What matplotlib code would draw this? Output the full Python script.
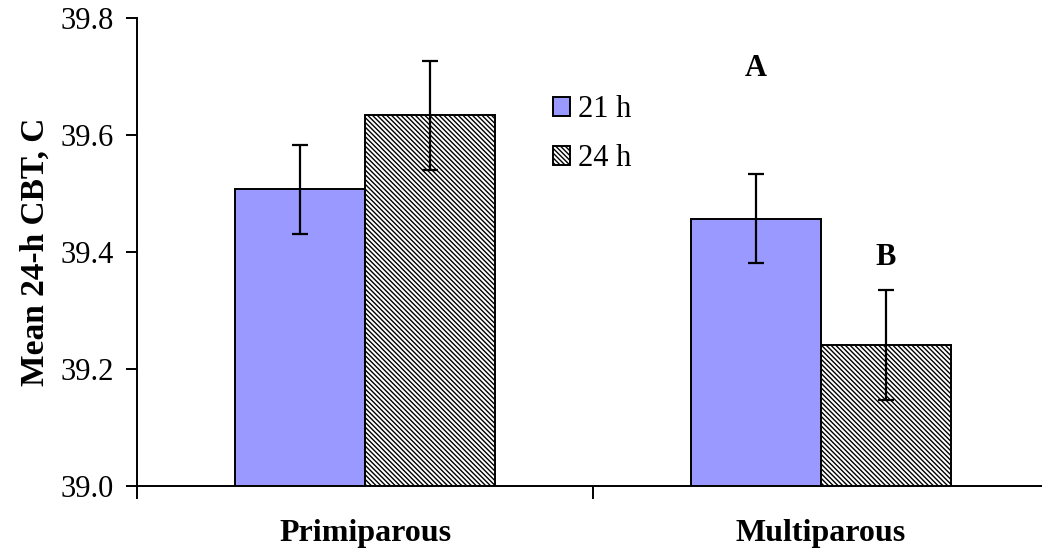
import matplotlib
matplotlib.use('Agg')
import matplotlib.pyplot as plt
import numpy as np

# --- data ---
groups = ['Primiparous', 'Multiparous']
series = ['21 h', '24 h']
cbt_21h = [39.507, 39.457]
err_21h = [0.076, 0.076]
cbt_24h = [39.634, 39.241]
err_24h = [0.093, 0.094]
letters_24h = ['', 'B']
letters_21h = ['', 'A']

plt.rcParams['font.family'] = ['Liberation Serif', 'DejaVu Serif']
plt.rcParams['hatch.linewidth'] = 1.0

fig = plt.figure(figsize=(10.42, 5.5), dpi=100)
ax = fig.add_axes([137 / 1042, 64 / 550, 912 / 1042, 468 / 550])

x = np.arange(len(groups)) + 0.5
w = 0.285

err_kw = dict(ecolor='black', elinewidth=1.6, capsize=6, capthick=1.6)
ax.bar(x - w / 2, cbt_21h, w, color='#9999ff', edgecolor='black', linewidth=1.4,
       yerr=err_21h, error_kw=err_kw, label=series[0])
ax.bar(x + w / 2, cbt_24h, w, color='white', edgecolor='black', linewidth=1.4,
       hatch='\\' * 7, yerr=err_24h, error_kw=err_kw, label=series[1])

# significance letters
for i in range(len(groups)):
    if letters_21h[i]:
        ax.text(x[i] - w / 2, cbt_21h[i] + err_21h[i] + 0.18, letters_21h[i],
                ha='center', va='center', fontsize=22, fontweight='bold')
    if letters_24h[i]:
        ax.text(x[i] + w / 2, cbt_24h[i] + err_24h[i] + 0.055, letters_24h[i],
                ha='center', va='center', fontsize=22, fontweight='bold')

ax.set_xlim(0, 2)
ax.set_ylim(39.0, 39.8)
ax.set_yticks(np.arange(39.0, 39.81, 0.2))
ax.set_yticklabels([f'{v:.1f}' for v in np.arange(39.0, 39.81, 0.2)])
ax.set_xticks(x)
ax.set_xticklabels(groups, fontsize=23, fontweight='bold')
ax.set_xticks([0, 1, 2], minor=True)
ax.tick_params(axis='x', which='major', length=0, pad=24)
ax.tick_params(axis='x', which='minor', length=9, width=1.4, direction='out')
ax.tick_params(axis='y', length=8, width=1.4, labelsize=22, pad=9)

for s in ['top', 'right']:
    ax.spines[s].set_visible(False)
for s in ['left', 'bottom']:
    ax.spines[s].set_linewidth(1.4)

ax.set_ylabel('Mean 24-h CBT, C', fontsize=24, fontweight='bold', labelpad=7)

ax.legend(loc='upper left', bbox_to_anchor=(541 / 1042, 1 - 83 / 550),
          bbox_transform=fig.transFigure, frameon=False, fontsize=22,
          handlelength=0.55, handleheight=0.55, handletextpad=0.25,
          labelspacing=0.66, borderaxespad=0)

fig.savefig('out.png', dpi=100)
